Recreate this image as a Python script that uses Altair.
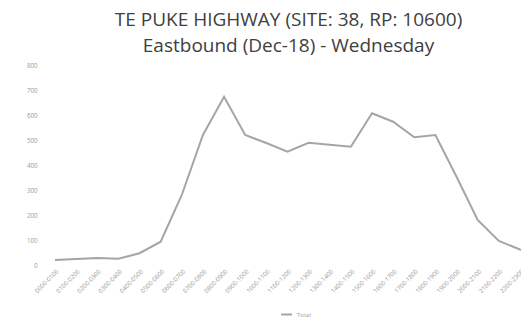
import altair as alt
import pandas as pd

hours = ["0000-0100", "0100-0200", "0200-0300", "0300-0400", "0400-0500", "0500-0600",
         "0600-0700", "0700-0800", "0800-0900", "0900-1000", "1000-1100", "1100-1200",
         "1200-1300", "1300-1400", "1400-1500", "1500-1600", "1600-1700", "1700-1800",
         "1800-1900", "1900-2000", "2000-2100", "2100-2200", "2200-2300", "2300-2400"]
volumes = [20, 24, 28, 25, 47, 93, 280, 520, 673, 520, 488, 453, 489, 481, 473, 607,
           573, 511, 520, 353, 180, 96, 62, 40]
series_name = "Total"
y_ticks = [0, 100, 200, 300, 400, 500, 600, 700, 800]

df = pd.DataFrame({"idx": list(range(len(hours))), "hour": hours, "volume": volumes,
                   "series": [series_name] * len(hours)})

label_array = "[" + ",".join("'" + h + "'" for h in hours) + "]"

chart = alt.Chart(df).mark_line(strokeWidth=2, clip=True).encode(
    x=alt.X("idx:Q",
            scale=alt.Scale(domain=[-0.52, 22.05], nice=False, zero=False),
            axis=alt.Axis(values=list(range(23)), labelExpr=label_array + "[datum.value]",
                          labelAngle=-45, labelFontSize=6.2, labelColor="#9a9a9a",
                          labelOverlap=False, labelBound=False,
                          domain=False, ticks=False, grid=False, title=None,
                          labelPadding=3, labelFont="Open Sans")),
    y=alt.Y("volume:Q",
            scale=alt.Scale(domain=[0, 800], nice=False),
            axis=alt.Axis(values=y_ticks, labelFontSize=6.2, labelColor="#9a9a9a",
                          domain=False, ticks=False, grid=False, title=None,
                          labelPadding=7, labelFont="Open Sans")),
    color=alt.Color("series:N", scale=alt.Scale(range=["#a5a5a5"]),
                    legend=alt.Legend(title=None, orient="none", legendX=236, legendY=243,
                                      symbolType="stroke", symbolStrokeWidth=2,
                                      symbolSize=120, labelFontSize=6,
                                      labelColor="#9a9a9a", labelFont="Open Sans")),
).properties(
    width=477, height=200,
    autosize="none",
    padding={"left": 36, "top": 57, "right": 0, "bottom": 54},
    title=alt.TitleParams(
        text=["TE PUKE HIGHWAY (SITE: 38, RP: 10600)", "Eastbound (Dec-18) - Wednesday"],
        font="Open Sans", fontSize=19, fontWeight="normal", color="#404040",
        anchor="middle", offset=6, lineHeight=26, dx=6),
).configure_view(stroke=None)

chart.save("out.html", embed_options={"renderer": "svg", "actions": False})
